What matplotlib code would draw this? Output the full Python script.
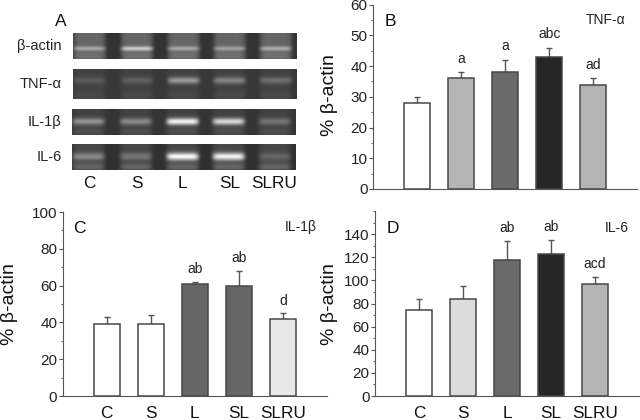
import numpy as np
import matplotlib
matplotlib.use('Agg')
import matplotlib.pyplot as plt

plt.rcParams['font.family'] = ['Liberation Sans', 'DejaVu Sans']

groups = ['C', 'S', 'L', 'SL', 'SLRU']

# panel B, TNF-a
tnf_vals = [28, 36, 38, 43, 34]
tnf_err = [2, 2, 4, 3, 2]
tnf_cols = ['white', '#b4b4b4', '#6a6a6a', '#262626', '#b4b4b4']
tnf_marks = ['', 'a', 'a', 'abc', 'ad']

# panel C, IL-1b
il1_vals = [39, 39, 61, 60, 42]
il1_err = [4, 5, 1, 8, 3]
il1_cols = ['white', 'white', '#666666', '#666666', '#e8e8e8']
il1_marks = ['', '', 'ab', 'ab', 'd']

# panel D, IL-6
il6_vals = [74, 84, 118, 123, 97]
il6_err = [10, 11, 16, 12, 6]
il6_cols = ['white', '#dcdcdc', '#6a6a6a', '#262626', '#b4b4b4']
il6_marks = ['', '', 'ab', 'ab', 'acd']

# gel strips: background grey, lane haze, band brightness per lane
gel_names = ['\u03b2-actin', 'TNF-\u03b1', 'IL-1\u03b2', 'IL-6']
gel_bg = [0.20, 0.22, 0.21, 0.19]
gel_haze = [0.20, 0.04, 0.05, 0.09]
gel_bands = [[0.66, 0.80, 0.66, 0.64, 0.68],
             [0.36, 0.38, 0.60, 0.52, 0.44],
             [0.58, 0.54, 0.95, 0.84, 0.46],
             [0.54, 0.46, 0.98, 0.95, 0.40]]
gel_lanes = [0.073, 0.285, 0.494, 0.70, 0.906]


def px_axes(x0, y0, x1, y1):
    # pixel box of the reference, top-left origin
    return fig.add_axes([x0 / 640, 1 - y1 / 420, (x1 - x0) / 640, (y1 - y0) / 420])


def draw_gel(box, bg, haze, bands, band_y, band_h, low):
    ax = px_axes(*box)
    w = int(box[2] - box[0]) * 2
    h = int(box[3] - box[1]) * 2
    xx, yy = np.meshgrid(np.linspace(0, 1, w), np.linspace(0, 1, h))
    img = np.full((h, w), bg, dtype=float)
    for c, b in zip(gel_lanes, bands):
        lane = np.exp(-((xx - c) / 0.072) ** 8)
        img += lane * haze
        img += lane * (b - bg - haze) * np.exp(-((yy - band_y) / band_h) ** 2)
        # faint second band under the main one
        img += lane * low * np.exp(-((yy - 0.88) / 0.13) ** 2)
    ax.imshow(img, cmap='gray', vmin=0, vmax=1, aspect='auto')
    ax.axis('off')


def draw_bars(ax, vals, errs, cols, marks, top, step, minor, mark_gap):
    x = np.arange(len(vals))
    ax.bar(x, vals, width=0.6, color=cols, edgecolor='#484848', linewidth=1.1, zorder=3)
    ax.errorbar(x, vals, yerr=[np.zeros(len(errs)), errs], fmt='none', ecolor='#555555',
                elinewidth=1.0, capsize=2, capthick=1.0, zorder=2)
    for xi, v, e, m in zip(x, vals, errs, marks):
        ax.text(xi, v + e + mark_gap, m, ha='center', va='bottom', fontsize=10, color='#222222')
    ax.set_xlim(-1, 5)
    ax.set_ylim(0, top)
    ax.set_yticks(np.arange(0, top + 1, step))
    ax.set_yticks(np.arange(0, top + 1, minor), minor=True)
    ax.spines['top'].set_visible(False)
    ax.spines['right'].set_visible(False)
    ax.spines['left'].set_color('#555555')
    ax.spines['bottom'].set_color('#555555')
    ax.tick_params(axis='y', which='major', length=3, color='#555555', labelsize=11,
                   labelcolor='#222222', pad=1)
    ax.tick_params(axis='y', which='minor', length=1.5, color='#555555')
    ax.patch.set_alpha(0)


fig = plt.figure(figsize=(6.4, 4.2), dpi=100)

# panel A
gel_boxes = [(72.7, 32.7, 296, 58.7), (72.7, 68.7, 296, 99), (72, 108.7, 296, 135), (72, 144, 296, 170)]
gel_band_y = [0.60, 0.40, 0.50, 0.48]
gel_band_h = [0.09, 0.11, 0.13, 0.15]
gel_low = [0.04, 0.03, 0.05, 0.12]
for i, box in enumerate(gel_boxes):
    draw_gel(box, gel_bg[i], gel_haze[i], gel_bands[i], gel_band_y[i], gel_band_h[i], gel_low[i])
    fig.text(61.5 / 640, 1 - (box[1] + box[3]) / 2 / 420, gel_names[i], ha='right', va='center',
             fontsize=10.5, color='#222222')
fig.text(60.5 / 640, 1 - 22 / 420, 'A', ha='center', va='center', fontsize=12.5, color='#111111')
for gx, g in zip([89.5, 136.5, 182.5, 229.5, 274], groups):
    fig.text(gx / 640, 1 - 183 / 420, g, ha='center', va='center', fontsize=12.4, color='#111111')

# panel B
ax_b = px_axes(373.3, 4.7, 637, 189)
draw_bars(ax_b, tnf_vals, tnf_err, tnf_cols, tnf_marks, 60, 10, 5, 2.2)
ax_b.set_xticks([])
ax_b.text(0.044, 0.91, 'B', transform=ax_b.transAxes, ha='left', va='center', fontsize=12.5, color='#111111')
ax_b.text(0.879, 0.915, 'TNF-\u03b1', transform=ax_b.transAxes, ha='center', va='center', fontsize=10, color='#222222')
fig.text(330 / 640, 1 - 95 / 420, '% \u03b2-actin', rotation=90, ha='center', va='center', fontsize=14, color='#111111')

# panel C
ax_c = px_axes(62.7, 212, 327, 396)
draw_bars(ax_c, il1_vals, il1_err, il1_cols, il1_marks, 100, 20, 10, 3)
ax_c.set_xticks(range(5), groups)
ax_c.tick_params(axis='x', length=0, labelsize=12.4, labelcolor='#111111', pad=7.5)
ax_c.text(0.04, 0.913, 'C', transform=ax_c.transAxes, ha='left', va='center', fontsize=12.5, color='#111111')
ax_c.text(0.899, 0.918, 'IL-1\u03b2', transform=ax_c.transAxes, ha='center', va='center', fontsize=10, color='#222222')
fig.text(9.5 / 640, 1 - 304 / 420, '% \u03b2-actin', rotation=90, ha='center', va='center', fontsize=14, color='#111111')

# panel D
ax_d = px_axes(375.3, 211, 639, 396)
draw_bars(ax_d, il6_vals, il6_err, il6_cols, il6_marks, 160, 20, 10, 5)
ax_d.set_yticks(np.arange(0, 141, 20))
ax_d.set_xticks(range(5), groups)
ax_d.tick_params(axis='x', length=0, labelsize=12.4, labelcolor='#111111', pad=7.5)
ax_d.text(0.043, 0.908, 'D', transform=ax_d.transAxes, ha='left', va='center', fontsize=12.5, color='#111111')
ax_d.text(0.915, 0.908, 'IL-6', transform=ax_d.transAxes, ha='center', va='center', fontsize=10, color='#222222')
fig.text(329 / 640, 1 - 304 / 420, '% \u03b2-actin', rotation=90, ha='center', va='center', fontsize=14, color='#111111')

fig.savefig('out.png', dpi=100)
